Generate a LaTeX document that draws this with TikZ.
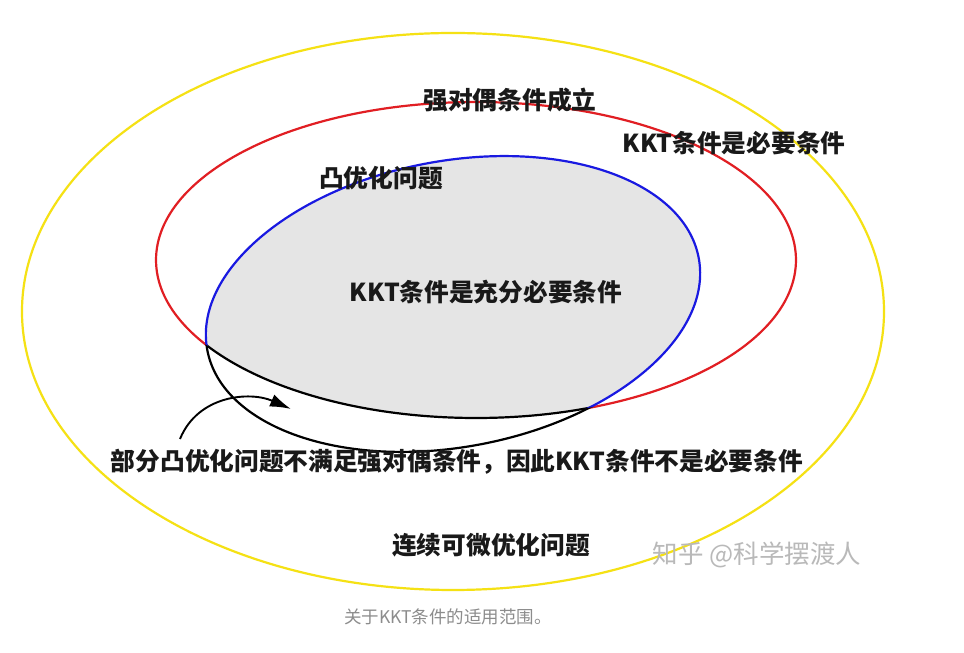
\documentclass[tikz,border=0pt]{standalone}
\usepackage{fontspec}
\newfontfamily\cjk{Noto Sans CJK SC}
\usetikzlibrary{arrows.meta}
\definecolor{ylw}{RGB}{245,225,20}
\definecolor{rd}{RGB}{225,30,35}
\definecolor{bl}{RGB}{25,25,225}
\definecolor{fillg}{RGB}{229,229,229}
\definecolor{wmgray}{RGB}{185,185,185}
\definecolor{capgray}{RGB}{140,140,140}
\begin{document}
\begin{tikzpicture}[x=1pt,y=1pt,
  lbl/.style={font=\cjk\bfseries\fontsize{24.7}{28}\selectfont, inner sep=0pt, text=black!90},
  ring/.style={line width=2.2pt},
  blueell/.style={rotate around={10.6:(453,349)}},
  unrot/.style={rotate around={-10.6:(453,349)}}]
\useasboundingbox (0,0) rectangle (964,653);
\fill[white] (0,0) rectangle (964,653);
% outer yellow ellipse
\draw[ring, ylw] (453,341.5) ellipse [x radius=431, y radius=278.5];
% gray region: blue ellipse inside red ellipse
\begin{scope}
  \clip (476,393) ellipse [x radius=320, y radius=158];
  \fill[fillg, blueell] (453,349) ellipse [x radius=250, y radius=143];
\end{scope}
% red ellipse: red outside the blue ellipse (clockwise frame, counter-clockwise hole)
\begin{scope}[blueell]
  \clip (-300,-300) -- (-300,1000) -- (1300,1000) -- (1300,-300) -- cycle
        (703,349) arc [start angle=0, end angle=360, x radius=250, y radius=143];
  \draw[ring, rd, unrot] (476,393) ellipse [x radius=320, y radius=158];
\end{scope}
% red ellipse: black inside the blue ellipse
\begin{scope}
  \clip[blueell] (453,349) ellipse [x radius=250, y radius=143];
  \draw[ring, black] (476,393) ellipse [x radius=320, y radius=158];
\end{scope}
% blue ellipse: blue inside red
\begin{scope}
  \clip (476,393) ellipse [x radius=320, y radius=158];
  \draw[ring, bl, blueell] (453,349) ellipse [x radius=250, y radius=143];
\end{scope}
% blue ellipse: black outside red
\begin{scope}
  \clip (-300,-300) -- (-300,1000) -- (1300,1000) -- (1300,-300) -- cycle
        (796,393) arc [start angle=0, end angle=360, x radius=320, y radius=158];
  \draw[ring, black, blueell] (453,349) ellipse [x radius=250, y radius=143];
\end{scope}
% arrow
\coordinate (as) at (180,214);
\coordinate (ae) at (291,244);
\draw[line width=1.9pt, -{Latex[length=21pt,width=13pt]}] (as) .. controls (198,258) and (250,262) .. (ae);
% labels
\node[lbl] (t1) at (510,553) {强对偶条件成立};
\node[lbl] (t2) at (734,510) {KKT条件是必要条件};
\node[lbl] (t3) at (381,475) {凸优化问题};
\node[lbl] (t4) at (486,361) {KKT条件是充分必要条件};
\node[lbl] (t5) at (457,191) {部分凸优化问题不满足强对偶条件，因此KKT条件不是必要条件};
\node[lbl] (t6) at (491,108) {连续可微优化问题};
\node[font=\cjk\fontsize{25.5}{28}\selectfont, text=wmgray, inner sep=0pt] (wm) at (757,98) {知乎 @科学摆渡人};
\node[font=\cjk\fontsize{17.5}{22}\selectfont, text=capgray, inner sep=0pt] (cap) at (448,36) {关于KKT条件的适用范围。};
\end{tikzpicture}
\end{document}
